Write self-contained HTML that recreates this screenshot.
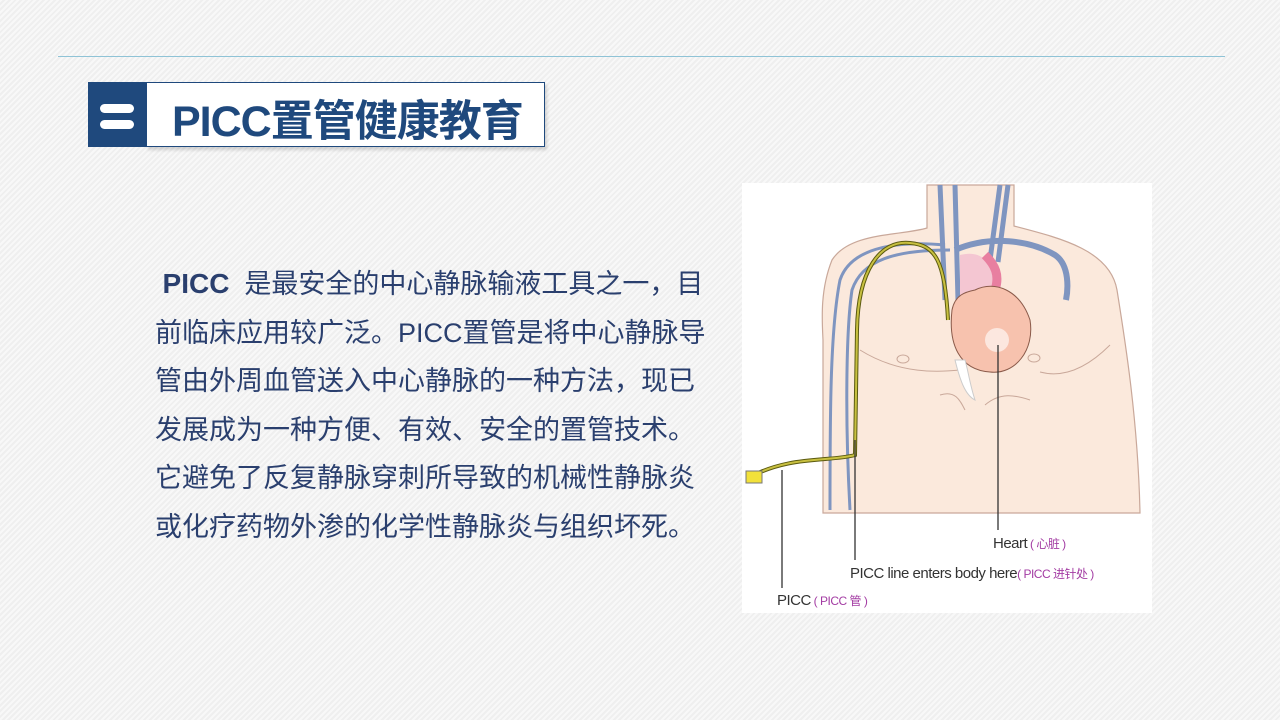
<!DOCTYPE html>
<html><head><meta charset="utf-8"><style>
body{margin:0;width:1280px;height:720px;overflow:hidden;background:#f5f5f5;
background-image:repeating-linear-gradient(135deg,#f8f8f8 0 2px,#efefef 2px 4px);position:relative;font-family:"Liberation Sans","Noto Sans CJK SC",sans-serif}
.line{position:absolute;left:58px;top:56px;width:1167px;height:1px;background:#8fc3d6}
.sq{position:absolute;left:88px;top:82px;width:58px;height:65px;background:#1f497d}
.sq i{position:absolute;left:19px;width:34px;height:9px;background:#fff;border-radius:5px}
.tb{position:absolute;left:146px;top:82px;width:397px;height:63px;background:#fff;border:1px solid #1f497d;box-shadow:2px 3px 3px rgba(0,0,0,.15)}
.tb span{position:absolute;left:25px;top:4px;font-size:43px;font-weight:bold;color:#1f497d;white-space:nowrap;letter-spacing:-1px}
.txt{position:absolute;left:155px;top:260px;width:600px;font-size:27px;line-height:48.6px;color:#2a3f6e;white-space:nowrap}
</style></head><body>
<div class="line"></div>
<div class="sq"><i style="top:22px;left:12px"></i><i style="top:38px;left:12px"></i></div>
<div class="tb"><span>PICC置管健康教育</span></div>
<div class="txt">&nbsp;<b style="font-size:28px">PICC</b>&nbsp;&nbsp;是最安全的中心静脉输液工具之一，目<br>前临床应用较广泛。PICC置管是将中心静脉导<br>管由外周血管送入中心静脉的一种方法，现已<br>发展成为一种方便、有效、安全的置管技术。<br>它避免了反复静脉穿刺所导致的机械性静脉炎<br>或化疗药物外渗的化学性静脉炎与组织坏死。</div>
<svg style="position:absolute;left:0;top:0" width="1280" height="720">
<rect x="742" y="183" width="410" height="430" fill="#fff"/>
<path d="M927,185 L927,228 C900,236 850,232 832,260 C820,290 822,320 823,340 L823,513 L1140,513 C1138,420 1125,340 1117,290 C1110,250 1060,238 1014,226 L1014,185 Z" fill="#fbe9dc" stroke="#c9a89a" stroke-width="1.2"/>
<path d="M860,350 C900,375 940,372 960,370 M1040,372 C1070,380 1095,360 1110,345 M940,395 C955,390 960,400 965,410 M985,405 C1000,392 1015,395 1030,400" stroke="#c9a89a" fill="none"/>
<ellipse cx="903" cy="359" rx="6" ry="4" fill="none" stroke="#c9a89a"/>
<ellipse cx="1034" cy="358" rx="6" ry="4" fill="none" stroke="#c9a89a"/>
<path d="M940,185 L945,300 M955,185 L958,300 M1000,185 L990,260 M1008,185 L998,262" stroke="#7f95c0" stroke-width="5" fill="none"/>
<path d="M955,250 C990,235 1030,240 1055,255 C1070,265 1068,290 1066,300" stroke="#7f95c0" stroke-width="6" fill="none"/>
<path d="M945,245 C890,240 850,250 840,280 C830,330 830,420 830,510 M950,250 C895,250 862,260 852,290 C846,330 845,420 850,510" stroke="#7f95c0" stroke-width="3" fill="none"/>
<path d="M960,255 C980,250 990,260 995,280 L990,330 L960,335 Z" fill="#f4c6d2"/>
<path d="M985,255 C995,265 1000,275 995,290" stroke="#e87fa0" stroke-width="9" fill="none"/>
<path d="M975,290 C995,280 1020,290 1030,320 C1035,350 1015,375 990,372 C960,370 948,345 952,310 C955,295 965,292 975,290 Z" fill="#f7c2ae" stroke="#8a5a4a"/>
<ellipse cx="997" cy="340" rx="12" ry="12" fill="#fff" opacity=".6"/>
<path d="M955,360 C960,380 965,395 975,400 C970,385 968,370 965,360 Z" fill="#fff" stroke="#ccc"/>
<path d="M748,478 C790,455 830,462 855,455 L857,330 C858,270 880,240 910,243 C935,245 945,260 948,320" stroke="#5b5a10" stroke-width="4" fill="none"/>
<path d="M748,478 C790,455 830,462 855,455 L857,330 C858,270 880,240 910,243 C935,245 945,260 948,320" stroke="#c8c040" stroke-width="2" fill="none"/>
<rect x="746" y="471" width="16" height="12" fill="#f2e13a" stroke="#777"/>
<g stroke="#333" stroke-width="1.3"><line x1="998" y1="345" x2="998" y2="530"/><line x1="855" y1="440" x2="855" y2="560"/><line x1="782" y1="470" x2="782" y2="588"/></g>
<g font-size="15" fill="#333" letter-spacing="-0.5"><text x="993" y="548">Heart<tspan fill="#a33ca3" font-size="12"> ( 心脏 )</tspan></text>
<text x="850" y="578">PICC line enters body here<tspan fill="#a33ca3" font-size="12">( PICC 进针处 )</tspan></text>
<text x="777" y="605">PICC<tspan fill="#a33ca3" font-size="12"> ( PICC 管 )</tspan></text></g>
</svg>
</body></html>
